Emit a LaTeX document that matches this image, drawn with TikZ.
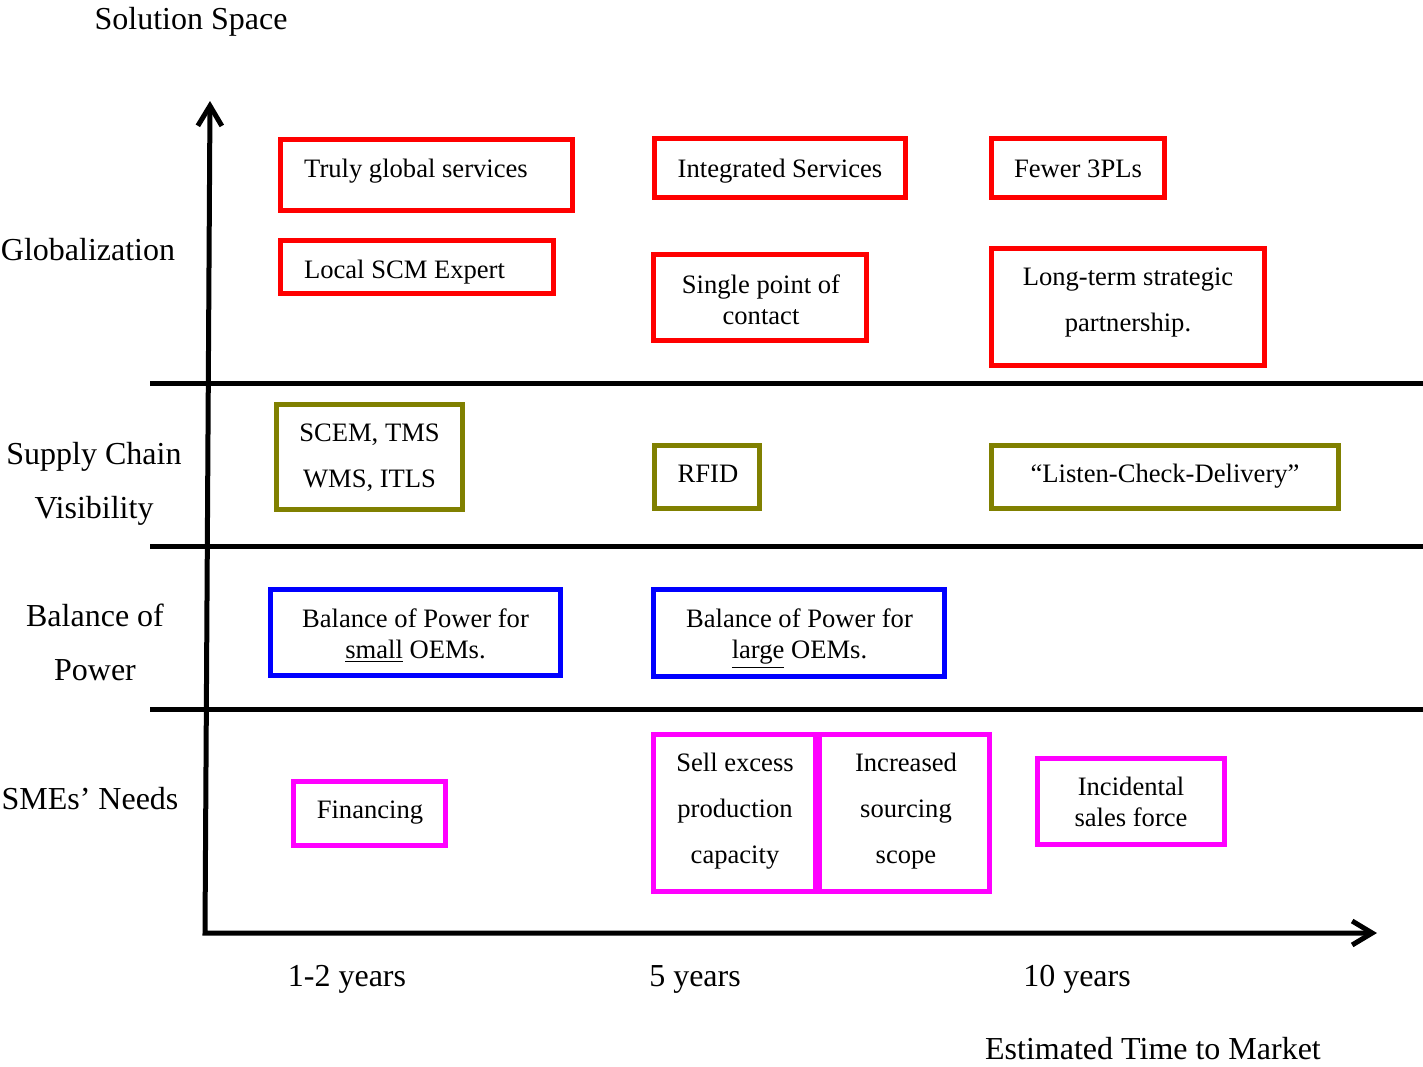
\documentclass[tikz,border=0pt]{standalone}
\usepackage{fontspec}
\setmainfont{Liberation Serif}
\usetikzlibrary{arrows.meta}
\definecolor{boxred}{RGB}{255,0,0}
\definecolor{boxolive}{RGB}{128,128,0}
\definecolor{boxblue}{RGB}{0,0,255}
\definecolor{boxmagenta}{RGB}{255,0,255}
\begin{document}
\begin{tikzpicture}[x=0.5pt,y=-0.5pt,
  >={Straight Barb[length=10pt,width=12pt]},
  axisline/.style={line width=2.5pt, black, line join=miter},
  divider/.style={line width=2.5pt, black},
  box/.style={draw=#1, line width=2.6pt, rectangle, inner sep=0pt},
  boxtxt/.style={font=\fontsize{13.3}{15.5}\selectfont, align=center, inner sep=0pt, yshift=-1.5pt},
  widetxt/.style={font=\fontsize{13.3}{23}\selectfont, align=center, inner sep=0pt, yshift=-1.5pt},
  axlabel/.style={font=\fontsize{16}{27}\selectfont, align=center, inner sep=0pt, yshift=-1.5pt}
]
\useasboundingbox (0,0) rectangle (1423,1066);

% row dividers
\coordinate (d1l) at (150,383);  \coordinate (d1r) at (1423,383);
\coordinate (d2l) at (150,546);  \coordinate (d2r) at (1423,546);
\coordinate (d3l) at (150,709);  \coordinate (d3r) at (1423,709);
\draw[divider] (d1l) -- (d1r);
\draw[divider] (d2l) -- (d2r);
\draw[divider] (d3l) -- (d3r);

% axes
\coordinate (ytop) at (210,101);
\coordinate (orig) at (205,933);
\coordinate (xend) at (1377,933);
\draw[axisline,<->] (ytop) -- (orig) -- (xend);

% axis titles and row labels
\node[axlabel] (ytitle) at (191,19) {Solution Space};
\node[axlabel] (xtitle) at (1153,1046) {Estimated Time to Market};
\node[axlabel] (rowglob) at (88,247) {Globalization};
\node[axlabel] (rowvis) at (94,481) {Supply Chain\\Visibility};
\node[axlabel] (rowbal) at (95,639) {Balance of\\Power};
\node[axlabel] (rowsme) at (90,796) {SMEs’ Needs};

% time ticks
\node[axlabel] (t1) at (347,976) {1-2 years};
\node[axlabel] (t2) at (695,976) {5 years};
\node[axlabel] (t3) at (1077,976) {10 years};

% Globalization
\node[box=boxred, minimum width=146pt, minimum height=35.5pt] (g1) at (426.5,175) {};
\node[boxtxt] (g1t) at (416,168) {Truly global services};
\node[box=boxred, minimum width=136.5pt, minimum height=26.5pt] (g2) at (417,267) {};
\node[boxtxt] (g2t) at (404.5,269) {Local SCM Expert};
\node[box=boxred, minimum width=125.5pt, minimum height=29.5pt] (g3) at (780,168) {};
\node[boxtxt] (g3t) at (780,168) {Integrated Services};
\node[box=boxred, minimum width=106.5pt, minimum height=43pt] (g4) at (760,297.5) {};
\node[boxtxt] (g4t) at (761,297) {Single point of\\contact};
\node[box=boxred, minimum width=86.5pt, minimum height=29.5pt] (g5) at (1078,168) {};
\node[boxtxt] (g5t) at (1078,166) {Fewer 3PLs};
\node[box=boxred, minimum width=136.5pt, minimum height=58.5pt] (g6) at (1128,307) {};
\node[widetxt] (g6t) at (1128,300) {Long-term strategic\\partnership.};

% Supply chain visibility
\node[box=boxolive, minimum width=93pt, minimum height=52.5pt] (v1) at (369.5,457) {};
\node[widetxt] (v1t) at (369.5,455) {SCEM, TMS\\WMS, ITLS};
\node[box=boxolive, minimum width=52.5pt, minimum height=31.5pt] (v2) at (707,477) {};
\node[boxtxt] (v2t) at (708,471) {RFID};
\node[box=boxolive, minimum width=173.5pt, minimum height=31.5pt] (v3) at (1165,477) {};
\node[boxtxt] (v3t) at (1165,473) {“Listen-Check-Delivery”};

% Balance of power
\node[box=boxblue, minimum width=145pt, minimum height=43pt] (b1) at (415.5,632.5) {};
\node[boxtxt] (b1t) at (415.5,632.5) {Balance of Power for\\\underline{small} OEMs.};
\node[box=boxblue, minimum width=145.5pt, minimum height=43.5pt] (b2) at (799,633) {};
\node[boxtxt] (b2t) at (799.5,635.5) {Balance of Power for\\\underline{large} OEMs.};

% SMEs' needs
\node[box=boxmagenta, minimum width=76pt, minimum height=32pt] (s1) at (369.5,813.5) {};
\node[boxtxt] (s1t) at (370,810) {Financing};
\node[box=boxmagenta, minimum width=81pt, minimum height=78.5pt] (s2) at (734.5,813) {};
\node[widetxt] (s2t) at (735,808.5) {Sell excess\\production\\capacity};
\node[box=boxmagenta, minimum width=85pt, minimum height=78.5pt] (s3) at (904.5,813) {};
\node[widetxt] (s3t) at (906,808.5) {Increased\\sourcing\\scope};
\node[box=boxmagenta, minimum width=93.5pt, minimum height=43pt] (s4) at (1131,801.5) {};
\node[boxtxt] (s4t) at (1131,798.5) {Incidental\\sales force};
\end{tikzpicture}
\end{document}
